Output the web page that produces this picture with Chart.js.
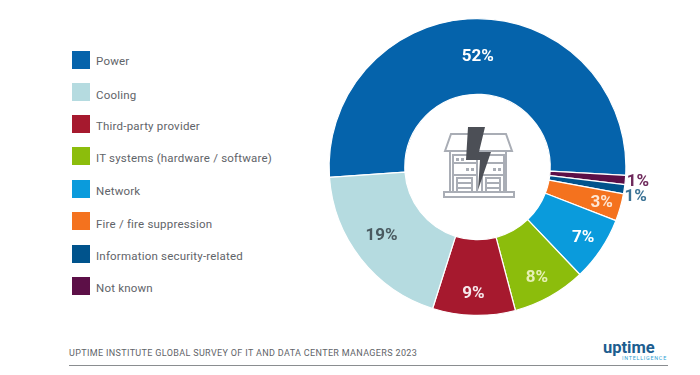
<!DOCTYPE html>
<html>
<head>
<meta charset="utf-8">
<script src="https://cdn.jsdelivr.net/npm/chart.js@4"></script>
<style>
  html, body { margin: 0; padding: 0; background: #fff; }
  body { width: 700px; height: 375px; position: relative; overflow: hidden; font-family: Roboto, sans-serif; color: #5f6469; }
  /* box is wider than the ring so the two 1% labels are not clipped */
  #chart-box { position: absolute; left: 287px; top: -3px; width: 381px; height: 340px; }
  .legend__swatch { position: absolute; left: 72px; width: 18px; height: 18px; }
  .legend__text { position: absolute; left: 96px; white-space: nowrap; font-size: 11.5px; letter-spacing: 0.2px; line-height: 14px; }
  .source { position: absolute; left: 69px; top: 348px; font-size: 9px; letter-spacing: 0.35px; color: #5f6469; white-space: nowrap; }
  .rule { position: absolute; left: 69px; top: 365px; width: 599px; height: 1px; background: #8a8d90; }
  .logo { position: absolute; left: 603px; top: 339px; font-size: 16.5px; font-weight: 700; color: #1c5d8f; line-height: 18px; }
  .logo__sub { position: absolute; left: 622px; top: 355px; font-size: 5.4px; letter-spacing: 0.75px; color: #2f9fd4; }
  #icon { position: absolute; left: 440px; top: 120px; width: 80px; height: 80px; }
</style>
</head>
<body>
<div id="chart-box"><canvas id="outage-chart"></canvas></div>
<div id="legend"></div>
<div class="source">UPTIME INSTITUTE GLOBAL SURVEY OF IT AND DATA CENTER MANAGERS 2023</div>
<div class="rule"></div>
<div class="logo">uptime</div>
<div class="logo__sub">INTELLIGENCE</div>
<svg id="icon" viewBox="440 120 80 80">
  <g fill="none" stroke="#a9adb5" stroke-width="2">
    <path d="M445 151 L451 134 H506 L512 151 Z"/>
    <path d="M450 151 V192 M506 151 V192"/>
    <path d="M453 192 V155 H477 V192 M482 192 V155 H504 V192"/>
    <path d="M453 163 H477 M453 175 H477 M482 163 H504 M482 175 H504"/>
    <path d="M457 192 V178 H472 V192 M457 183 H472 M457 188 H472"/>
    <path d="M486 192 V178 H500 V192 M486 183 H500 M486 188 H500"/>
    <rect x="444" y="192" width="70" height="5"/>
  </g>
  <g fill="#a9adb5">
    <rect x="456" y="158" width="3" height="3"/>
    <rect x="461" y="158" width="3" height="3"/>
    <rect x="466" y="168" width="3" height="3"/>
    <rect x="471" y="168" width="3" height="3"/>
    <rect x="493" y="168" width="3" height="3"/>
    <rect x="498" y="168" width="3" height="3"/>
  </g>
  <path d="M468 127 H485 L479 152 H491 L478 190 L480 160 H466 Z" fill="#4c4f56"/>
</svg>
<script>
  // legend order, as printed on the left
  const categories = ["Power", "Cooling", "Third-party provider", "IT systems (hardware / software)", "Network", "Fire / fire suppression", "Information security-related", "Not known"];
  const shares = [52, 19, 9, 8, 7, 3, 1, 1];
  const colors = ["#0563ab", "#b5dbe0", "#a6192e", "#8cbd0c", "#0a9bdc", "#f4721e", "#00538c", "#5c0f47"];

  // slices go clockwise: power first, the rest in reverse legend order
  const sliceOrder = [0, 7, 6, 5, 4, 3, 2, 1];

  const swatchTops = [51, 83, 115, 147, 180, 212, 245, 277];
  const textTops = [54, 88, 119, 151, 184, 217, 249, 281];
  const labelColors = ["#ffffff", "#4a5a60", "#f6e9ec", "#e6f0b4", "#ffffff", "#fde6d4", "#3b7396", "#6f2a5c"];
  const labelRadius = [112, 117, 125, 124, 126, 128, 160, 161];
  const labelNudgeX = [1, -4, -1, -1, 1, 1, 0, 0];
  const labelNudgeY = [2, -4, 2, 3, 1, 1, 6, 1];

  const legend = document.getElementById("legend");
  categories.forEach((name, i) => {
    legend.insertAdjacentHTML(
      "beforeend",
      `<div class="legend__swatch" style="top:${swatchTops[i]}px;background:${colors[i]}"></div>` +
        `<div class="legend__text" style="top:${textTops[i]}px">${name}</div>`
    );
  });

  const sliceLabels = {
    id: "sliceLabels",
    afterDatasetsDraw(chart) {
      const ctx = chart.ctx;
      const arcs = chart.getDatasetMeta(0).data;
      ctx.save();
      ctx.textAlign = "center";
      ctx.textBaseline = "middle";
      ctx.font = "bold 17px Roboto, sans-serif";
      arcs.forEach((arc, n) => {
        const i = sliceOrder[n];
        const mid = (arc.startAngle + arc.endAngle) / 2;
        ctx.fillStyle = labelColors[i];
        ctx.fillText(
          shares[i] + "%",
          arc.x + Math.cos(mid) * labelRadius[i] + labelNudgeX[i],
          arc.y + Math.sin(mid) * labelRadius[i] + labelNudgeY[i]
        );
      });
      ctx.restore();
    },
  };

  new Chart(document.getElementById("outage-chart").getContext("2d"), {
    type: "doughnut",
    data: {
      labels: sliceOrder.map((i) => categories[i]),
      datasets: [
        {
          data: sliceOrder.map((i) => shares[i]),
          backgroundColor: sliceOrder.map((i) => colors[i]),
          borderColor: "#fff",
          borderWidth: 1.2,
          hoverOffset: 0,
        },
      ],
    },
    options: {
      responsive: true,
      maintainAspectRatio: false,
      animation: false,
      rotation: 266,
      cutout: "49%",
      layout: { padding: 21 },
      plugins: {
        legend: { display: false },
        title: { display: false },
        tooltip: { enabled: false },
      },
    },
    plugins: [sliceLabels],
  });
</script>
</body>
</html>
